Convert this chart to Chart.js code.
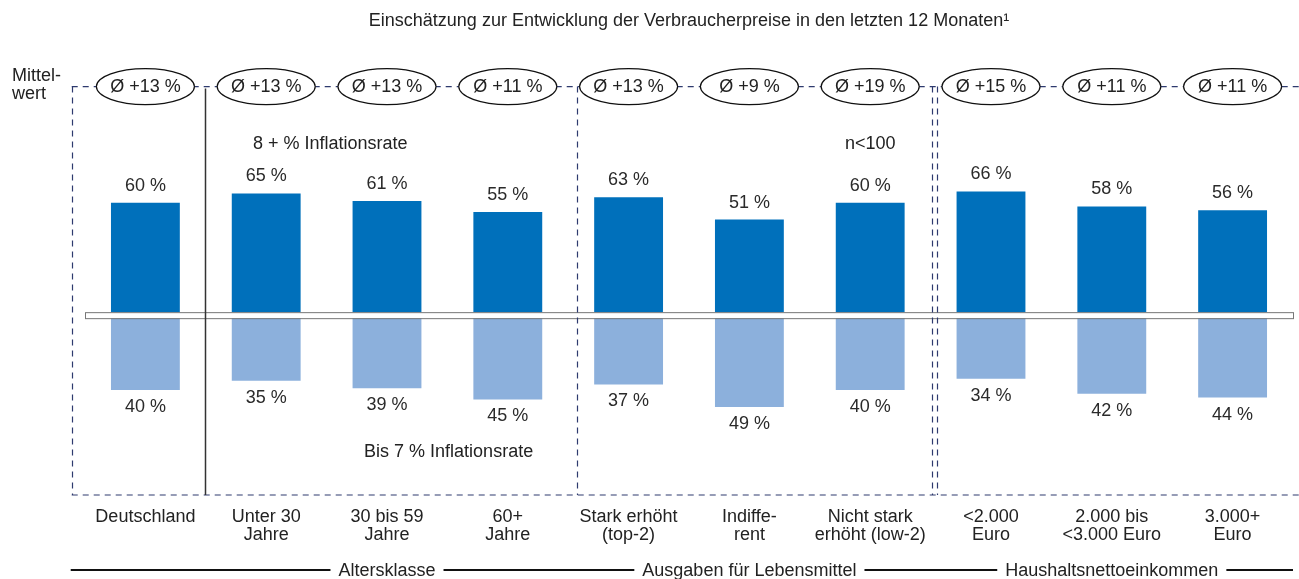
<!DOCTYPE html>
<html>
<head>
<meta charset="utf-8">
<script src="https://cdn.jsdelivr.net/npm/chart.js@4"></script>
<style>
  body { margin: 0; background: #fff; }
  #wrap { width: 1299px; height: 579px; }
</style>
</head>
<body>
<div id="wrap"><canvas id="chart"></canvas></div>
<script>
// Verbraucherpreise chart

const categories = [
    ["Deutschland"], ["Unter 30", "Jahre"], ["30 bis 59", "Jahre"], ["60+", "Jahre"],
    ["Stark erhöht", "(top-2)"], ["Indiffe-", "rent"], ["Nicht stark", "erhöht (low-2)"],
    ["<2.000", "Euro"], ["2.000 bis", "<3.000 Euro"], ["3.000+", "Euro"]
];
const highShare = [60, 65, 61, 55, 63, 51, 60, 66, 58, 56];   // 8 + % Inflationsrate
const lowShare = [40, 35, 39, 45, 37, 49, 40, 34, 42, 44];    // Bis 7 % Inflationsrate
const meanValues = [13, 13, 13, 11, 13, 9, 19, 15, 11, 11];  // Mittelwert
const groupNames = ["Altersklasse", "Ausgaben für Lebensmittel", "Haushaltsnettoeinkommen"];
const groupStart = [1, 4, 7];
const groupEnd = [3, 6, 9];

const FONT = "'Liberation Sans', Arial, sans-serif";
const DARK = "#0070bb";
const LIGHT = "#8cb0dc";
const DASH = "#2e3a6e";

const extras = {
    id: "extras",
    afterDatasetsDraw(chart) {
        const ctx = chart.ctx;
        const area = chart.chartArea;
        const x = chart.scales.x;
        const y = chart.scales.y;
        const px = (v) => x.getPixelForValue(v);
        const zero = y.getPixelForValue(0);
        const W = chart.width;

        ctx.save();
        ctx.font = "18px " + FONT;
        ctx.textAlign = "center";
        ctx.textBaseline = "middle";

        // value labels
        const hi = chart.getDatasetMeta(0).data;
        const lo = chart.getDatasetMeta(1).data;
        ctx.fillStyle = "#2a2a2a";
        hi.forEach((b, i) => ctx.fillText(highShare[i] + " %", b.x, b.y - 17));
        lo.forEach((b, i) => ctx.fillText(lowShare[i] + " %", b.x, b.y + 17));

        // zero band
        ctx.fillStyle = "#fff";
        ctx.fillRect(area.left, zero - 3, area.right - area.left, 6);
        ctx.strokeStyle = "#777";
        ctx.lineWidth = 1;
        ctx.strokeRect(area.left + 0.5, zero - 2.5, area.right - area.left, 6);

        // dashed frames
        const left = px(-0.61);
        ctx.strokeStyle = DASH;
        ctx.lineWidth = 1.2;
        ctx.setLineDash([6, 5]);
        ctx.beginPath();
        ctx.moveTo(left, area.top); ctx.lineTo(W, area.top);
        ctx.moveTo(left, area.bottom); ctx.lineTo(W, area.bottom);
        [-0.61, 3.57, 6.515, 6.555].forEach((v) => {
            const xx = Math.round(px(v)) + 0.5;
            ctx.moveTo(xx, area.top); ctx.lineTo(xx, area.bottom);
        });
        ctx.stroke();
        ctx.setLineDash([]);

        // solid divider after Deutschland
        const sx = Math.round(px(0.49)) + 0.5;
        ctx.strokeStyle = "#333";
        ctx.lineWidth = 1.5;
        ctx.beginPath();
        ctx.moveTo(sx, area.top + 2); ctx.lineTo(sx, area.bottom);
        ctx.stroke();

        // mean ellipses
        ctx.lineWidth = 1.2;
        meanValues.forEach((m, i) => {
            const cx = px(i);
            ctx.beginPath();
            ctx.ellipse(cx, area.top, 49, 18, 0, 0, Math.PI * 2);
            ctx.fillStyle = "#fff";
            ctx.fill();
            ctx.strokeStyle = "#111";
            ctx.stroke();
            ctx.fillStyle = "#222";
            ctx.fillText("Ø +" + m + " %", cx, area.top);
        });

        // side label
        ctx.textAlign = "left";
        ctx.fillText("Mittel-", 12, area.top - 11);
        ctx.fillText("wert", 12, area.top + 7);

        // annotations
        ctx.textAlign = "center";
        ctx.fillText("8 + % Inflationsrate", px(1.53), y.getPixelForValue(91.5));
        ctx.fillText("n<100", px(6.0), y.getPixelForValue(91.5));
        ctx.fillText("Bis 7 % Inflationsrate", px(2.51), y.getPixelForValue(-73));

        // group lines
        const gy = area.bottom + 75;
        ctx.strokeStyle = "#111";
        ctx.lineWidth = 2;
        ctx.beginPath();
        ctx.moveTo(left - 1, gy); ctx.lineTo(area.right, gy);
        ctx.stroke();
        groupNames.forEach((g, i) => {
            const cx = (px(groupStart[i]) + px(groupEnd[i])) / 2;
            const w = ctx.measureText(g).width;
            ctx.fillStyle = "#fff";
            ctx.fillRect(cx - w / 2 - 8, gy - 9, w + 16, 18);
            ctx.fillStyle = "#222";
            ctx.fillText(g, cx, gy + 1);
        });
        ctx.restore();
    }
};

new Chart(document.getElementById("chart"), {
    type: "bar",
    data: {
        labels: categories,
        datasets: [
            {
                label: "8 + % Inflationsrate",
                data: highShare,
                backgroundColor: DARK,
                barPercentage: 0.57,
                categoryPercentage: 1,
            },
            {
                label: "Bis 7 % Inflationsrate",
                data: lowShare.map((v) => -v),
                backgroundColor: LIGHT,
                barPercentage: 0.57,
                categoryPercentage: 1,
            },
        ],
    },
    options: {
        responsive: true,
        maintainAspectRatio: false,
        animation: false,
        layout: { padding: { left: 85, right: 6, top: 0, bottom: 30 } },
        plugins: {
            legend: { display: false },
            tooltip: { enabled: false },
            title: {
                display: true,
                text: "Einschätzung zur Entwicklung der Verbraucherpreise in den letzten 12 Monaten¹",
                color: "#222",
                font: { family: FONT, size: 18, weight: "normal" },
                padding: { top: 10, bottom: 55 },
            },
        },
        scales: {
            x: {
                stacked: true,
                grid: { display: false },
                border: { display: false },
                ticks: { color: "#222", font: { family: FONT, size: 18, lineHeight: 1 }, padding: 5, maxRotation: 0, autoSkip: false },
            },
            y: {
                stacked: true,
                display: false,
                min: -96,
                max: 122,
            },
        },
    },
    plugins: [extras],
});
</script>
</body>
</html>
